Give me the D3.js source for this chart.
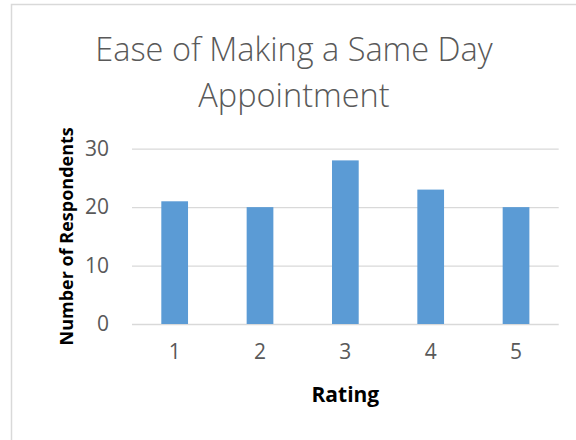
<!DOCTYPE html>
<html>
<head>
<meta charset="utf-8">
<script src="https://cdn.jsdelivr.net/npm/d3@7"></script>
<style>
  html, body { margin: 0; padding: 0; background: #ffffff; }
  svg { display: block; }
</style>
</head>
<body>
<svg id="chart" width="576" height="440"></svg>
<script>
const categories = ["1", "2", "3", "4", "5"];
const values = [21, 20, 28, 23, 20];
const yTicks = [0, 10, 20, 30];
const titleLines = ["Ease of Making a Same Day", "Appointment"];
const xTitle = "Rating";
const yTitle = "Number of Respondents";

const svg = d3.select("#chart");
const font = "'Open Sans', 'Liberation Sans', sans-serif";

// chart border
svg.append("rect")
  .attr("x", 11.5).attr("y", 4.5)
  .attr("width", 600).attr("height", 500)
  .attr("fill", "#ffffff")
  .attr("stroke", "#d9d9d9").attr("stroke-width", 1.5);

const plot = { left: 132, right: 558.7, top: 148.7, bottom: 324 };

const x = d3.scaleBand()
  .domain(categories)
  .range([plot.left, plot.right])
  .paddingInner(0.687)
  .paddingOuter(0.3435);

const y = d3.scaleLinear()
  .domain([0, 30])
  .range([plot.bottom, plot.top]);

// gridlines
const yAxis = d3.axisLeft(y).tickValues(yTicks)
  .tickSize(-(plot.right - plot.left)).tickPadding(23).tickFormat(d3.format("d"));
const gy = svg.append("g")
  .attr("transform", `translate(${plot.left},0)`)
  .call(yAxis);
gy.select(".domain").remove();
gy.selectAll(".tick line").attr("stroke", "#d9d9d9").attr("stroke-width", 1.3);
gy.selectAll(".tick text")
  .attr("fill", "#595959")
  .style("font-family", font)
  .style("font-size", "21px");

// bars
svg.append("g").selectAll("rect")
  .data(categories.map((c, i) => ({ c, v: values[i] })))
  .join("rect")
  .attr("x", d => x(d.c))
  .attr("y", d => y(d.v))
  .attr("width", x.bandwidth())
  .attr("height", d => y(0) - y(d.v))
  .attr("fill", "#5b9bd5");

// x axis
const xAxis = d3.axisBottom(x).tickSize(0).tickPadding(20);
const gx = svg.append("g")
  .attr("transform", `translate(0,${plot.bottom})`)
  .call(xAxis);
gx.select(".domain").remove();
gx.selectAll(".tick text")
  .attr("fill", "#595959")
  .style("font-family", font)
  .style("font-size", "21px");

// title
svg.append("g").selectAll("text")
  .data(titleLines)
  .join("text")
  .attr("x", 294)
  .attr("y", (d, i) => 61 + i * 46)
  .attr("text-anchor", "middle")
  .attr("fill", "#595959")
  .style("font-family", font)
  .style("font-weight", 300)
  .style("font-size", "32.5px")
  .text(d => d);

// axis titles
svg.append("text")
  .attr("x", (plot.left + plot.right) / 2)
  .attr("y", 402)
  .attr("text-anchor", "middle")
  .attr("fill", "#000000")
  .style("font-family", font)
  .style("font-weight", 700)
  .style("font-size", "21px")
  .text(xTitle);

svg.append("text")
  .attr("transform", `translate(73,${(plot.top + plot.bottom) / 2}) rotate(-90)`)
  .attr("text-anchor", "middle")
  .attr("fill", "#000000")
  .style("font-family", font)
  .style("font-weight", 700)
  .style("font-size", "18px")
  .text(yTitle);
</script>
</body>
</html>
